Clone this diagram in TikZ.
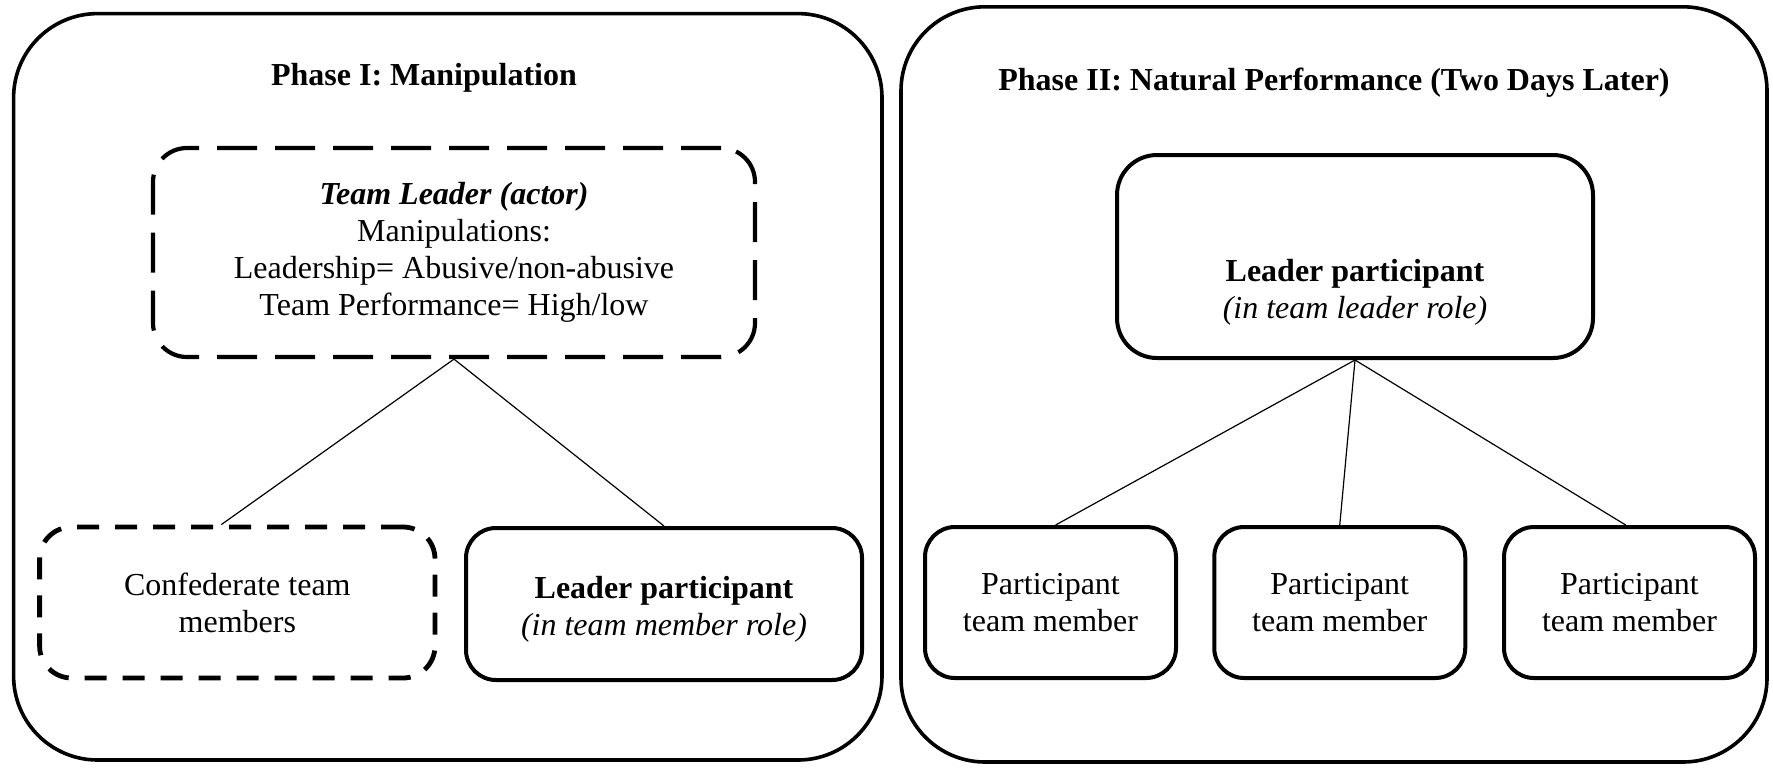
\documentclass[tikz,border=0pt]{standalone}
\usepackage{fontspec}
\setmainfont{Liberation Serif}
\usetikzlibrary{calc}
\begin{document}
\begin{tikzpicture}[x=0.5pt,y=-0.5pt,
  every node/.style={font=\fontsize{16}{18.5}\selectfont, align=center, inner sep=0pt},
  outer/.style={draw, line width=1.8pt, rounded corners=42pt},
  dbox/.style={draw, line width=2.1pt, dash pattern=on 20pt off 9pt, rounded corners=17pt},
  dsmall/.style={draw, line width=2.4pt, dash pattern=on 11pt off 8pt, rounded corners=16pt},
  sbox/.style={draw, line width=2pt, rounded corners=15pt},
  ttl/.style={font=\fontsize{16}{18}\selectfont\bfseries},
  conn/.style={line width=0.6pt}
]
\useasboundingbox (0,0) rectangle (1773,767);
% outer panels
\node[outer, minimum width=434.2pt, minimum height=373.2pt] (p1) at (447.8,386.8) {};
\node[outer, minimum width=433pt, minimum height=377.6pt] (p2) at (1334,384.4) {};
% titles
\node[ttl] (t1) at (424,78) {Phase I: Manipulation};
\node[ttl] (t2) at (1334,82.5) {Phase II: Natural Performance (Two Days Later)};
% phase I
\node[dbox, minimum width=301pt, minimum height=104.5pt] (tl) at (454,252.5)
  {\textbf{\textit{Team Leader (actor)}}\\Manipulations:\\Leadership= Abusive/non-abusive\\Team Performance= High/low};
\node[dsmall, minimum width=197.7pt, minimum height=75.5pt] (conf) at (237.3,602.5)
  {Confederate team\\members};
\node[sbox, minimum width=198pt, minimum height=76pt] (lpm) at (664,604) {};
\node (lpmt) at ($(lpm.center)+(0,5)$) {\textbf{Leader participant}\\\textit{(in team member role)}};
\draw[conn] (tl.south) -- ($(conf.north west)!0.46!(conf.north east)$);
\draw[conn] (tl.south) -- (lpm.north);
% phase II
\node[sbox, rounded corners=20pt, minimum width=238pt, minimum height=101.5pt] (lpl) at (1355,256.5) {};
\node (lplt) at ($(lpl.center)+(0,36)$) {\textbf{Leader participant}\\\textit{(in team leader role)}};
\node[sbox, minimum width=125.5pt, minimum height=75.5pt] (m1) at (1050.5,602.5) {Participant\\team member};
\node[sbox, minimum width=125.5pt, minimum height=75.5pt] (m2) at (1339.75,602.5) {Participant\\team member};
\node[sbox, minimum width=125.5pt, minimum height=75.5pt] (m3) at (1629.5,602.5) {Participant\\team member};
\draw[conn] (lpl.south) -- ($(m1.north west)!0.52!(m1.north east)$);
\draw[conn] (lpl.south) -- (m2.north);
\draw[conn] (lpl.south) -- ($(m3.north west)!0.485!(m3.north east)$);
\end{tikzpicture}
\end{document}
